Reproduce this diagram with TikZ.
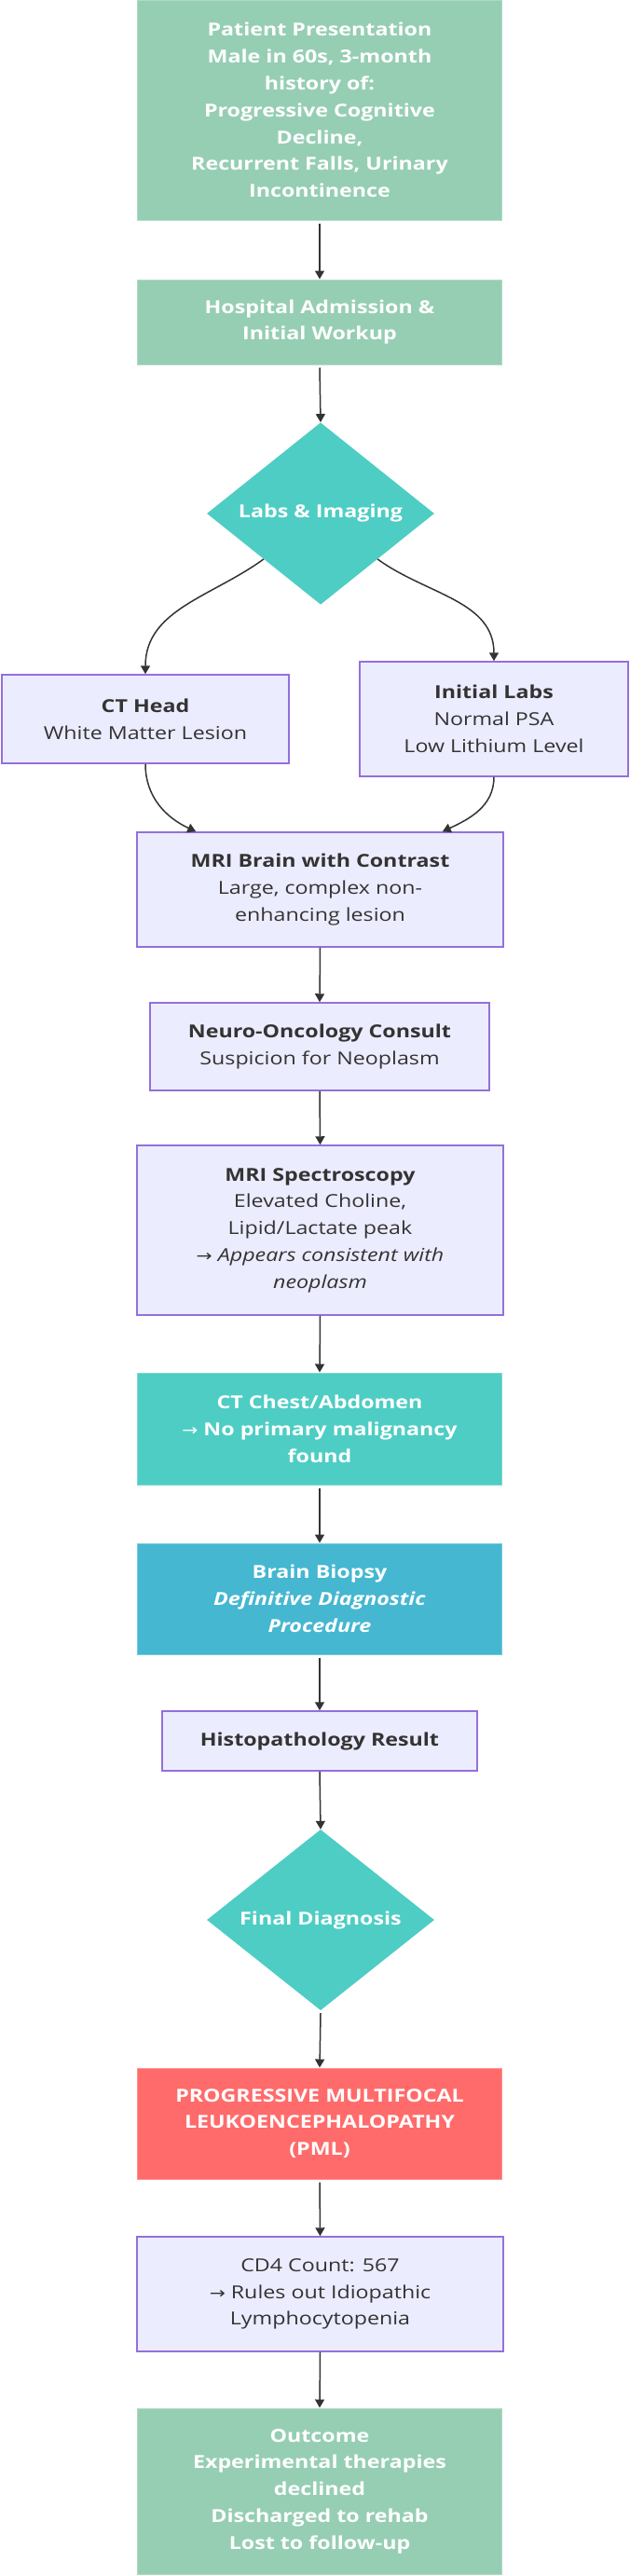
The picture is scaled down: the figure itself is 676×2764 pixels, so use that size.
\documentclass[tikz,border=0pt]{standalone}
\usepackage{fontspec}
\setmainfont{Open Sans}[FakeStretch=1.21]
\newfontfamily\symfont{DejaVu Sans}[FakeStretch=1.2]
\usetikzlibrary{arrows.meta,shapes.geometric}
\definecolor{sage}{HTML}{96CEB4}
\definecolor{cteal}{HTML}{4ECDC4}
\definecolor{cblue}{HTML}{45B7D1}
\definecolor{cred}{HTML}{FF6B6B}
\definecolor{lav}{HTML}{ECECFF}
\definecolor{lavline}{HTML}{9370DB}
\definecolor{ink}{HTML}{333333}
\newcommand{\ar}{{\symfont\mdseries\upshape\fontsize{17bp}{28.8bp}\selectfont →}}
\newcommand{\fs}{\fontsize{19.2bp}{28.8bp}\selectfont}
\tikzset{
  base/.style={rectangle, inner sep=0pt, align=center, font=\fs},
  greenbox/.style={base, fill=sage, draw=sage!75!white, line width=1bp, text=white, font=\fs\bfseries},
  tealbox/.style={base, fill=cteal, draw=cteal!75!white, line width=1bp, text=white, font=\fs\bfseries},
  bluebox/.style={base, fill=cblue, draw=cblue!75!white, line width=1bp, text=white, font=\fs\bfseries},
  redbox/.style={base, fill=cred, draw=cred!75!white, line width=1bp, text=white, font=\fs\bfseries},
  lavbox/.style={base, fill=lav, draw=lavline, line width=1.5bp, text=ink},
  decision/.style={diamond, inner sep=0pt, fill=cteal, text=white, font=\fs\bfseries, minimum width=244bp, minimum height=194bp},
  arr/.style={draw=ink, line width=1.5bp, -{Triangle[length=9bp,width=10bp]}, color=ink}
}
\begin{document}
\begin{tikzpicture}[x=1bp,y=-1bp]
\fill[white] (0,0) rectangle (676,2764);
\useasboundingbox (0,0) rectangle (676,2764);

\node[greenbox, minimum width=390bp, minimum height=236bp] (patient) at (343,118)
  {Patient Presentation\\Male in 60s, 3-month\\history of:\\Progressive Cognitive\\Decline,\\Recurrent Falls, Urinary\\Incontinence};
\node[greenbox, minimum width=390bp, minimum height=91bp] (hospital) at (343,345.5)
  {Hospital Admission \&\\Initial Workup};
\node[decision] (labs) at (344,551) {Labs \& Imaging};
\node[lavbox, minimum width=308bp, minimum height=95bp] (cthead) at (156,771.5)
  {\textbf{CT Head}\\White Matter Lesion};
\node[lavbox, minimum width=288bp, minimum height=123bp] (initlabs) at (530,771.5)
  {\textbf{Initial Labs}\\Normal PSA\\Low Lithium Level};
\node[lavbox, minimum width=393bp, minimum height=123bp] (mribrain) at (343.5,954.5)
  {\textbf{MRI Brain with Contrast}\\Large, complex non-\\enhancing lesion};
\node[lavbox, minimum width=364bp, minimum height=94bp] (neuro) at (343,1123)
  {\textbf{Neuro-Oncology Consult}\\Suspicion for Neoplasm};
\node[lavbox, minimum width=393bp, minimum height=182bp] (mrispec) at (343.5,1320)
  {\textbf{MRI Spectroscopy}\\Elevated Choline,\\Lipid/Lactate peak\\\ar{} \textit{Appears consistent with}\\\textit{neoplasm}};
\node[tealbox, minimum width=390bp, minimum height=120bp] (ctchest) at (343,1533)
  {CT Chest/Abdomen\\\ar{} No primary malignancy\\found};
\node[bluebox, minimum width=390bp, minimum height=119bp] (biopsy) at (343,1715.5)
  {Brain Biopsy\\\textit{Definitive Diagnostic}\\\textit{Procedure}};
\node[lavbox, minimum width=338bp, minimum height=64bp, font=\fs\bfseries] (histo) at (343,1868)
  {Histopathology Result};
\node[decision] (finaldx) at (344,2060) {Final Diagnosis};
\node[redbox, minimum width=390bp, minimum height=119bp] (pml) at (343,2278.5)
  {PROGRESSIVE MULTIFOCAL\\LEUKOENCEPHALOPATHY\\(PML)};
\node[lavbox, minimum width=393bp, minimum height=123bp] (cd4) at (343.5,2461.5)
  {CD4 Count: 567\\\ar{} Rules out Idiopathic\\Lymphocytopenia};
\node[greenbox, minimum width=390bp, minimum height=178bp] (outcome) at (343,2673)
  {Outcome\\Experimental therapies\\declined\\Discharged to rehab\\Lost to follow-up};

\draw[arr] ([yshift=-3bp]patient.south) -- (hospital.north);
\draw[arr] ([yshift=-3bp]hospital.south) -- (labs.north);
\draw[arr] (labs.south west) to[out=216,in=90] (cthead.north);
\draw[arr] (labs.south east) to[out=-36,in=90] (initlabs.north);
\draw[arr] (cthead.south) to[out=-90,in=155] ([xshift=64bp]mribrain.north west);
\draw[arr] (initlabs.south) to[out=-90,in=25] ([xshift=-66bp]mribrain.north east);
\draw[arr] (mribrain.south) -- (neuro.north);
\draw[arr] (neuro.south) -- (mrispec.north);
\draw[arr] (mrispec.south) -- (ctchest.north);
\draw[arr] ([yshift=-3bp]ctchest.south) -- (biopsy.north);
\draw[arr] ([yshift=-3bp]biopsy.south) -- (histo.north);
\draw[arr] (histo.south) -- (finaldx.north);
\draw[arr] ([yshift=-3bp]finaldx.south) -- (pml.north);
\draw[arr] ([yshift=-3bp]pml.south) -- (cd4.north);
\draw[arr] (cd4.south) -- (outcome.north);
\end{tikzpicture}
\end{document}
